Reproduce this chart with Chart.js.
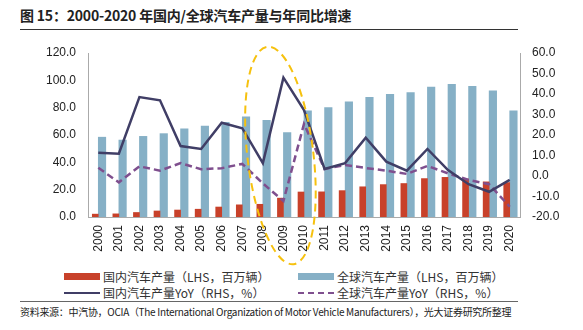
<!DOCTYPE html>
<html>
<head>
<meta charset="utf-8">
<script src="https://cdn.jsdelivr.net/npm/chart.js@4"></script>
<style>
  body { margin: 0; width: 583px; height: 330px; background: #fff; position: relative; overflow: hidden;
         font-family: "Noto Sans CJK SC", "Liberation Sans", sans-serif; color: #222; }
  #title { position: absolute; left: 20px; top: 5px; font-size: 14px; font-weight: bold; letter-spacing: -0.2px; }
  #titleLine { position: absolute; left: 20px; top: 29px; width: 498px; border-top: 1px solid #333; }
  #chartBox { position: absolute; left: 0; top: 32px; width: 583px; height: 236px; }
  .leg { position: absolute; font-size: 12px; color: #333; white-space: nowrap; line-height: 14px; }
  .sw { position: absolute; width: 36px; }
  #srcLine { position: absolute; left: 20px; top: 301px; width: 498px; border-top: 1px solid #666; }
  #src { position: absolute; left: 20px; top: 304px; font-size: 10px; letter-spacing: -0.3px; color: #222; white-space: nowrap; }
</style>
</head>
<body>
<div id="title">图 15：2000-2020 年国内/全球汽车产量与年同比增速</div>
<div id="titleLine"></div>
<div id="chartBox"><canvas id="chart"></canvas></div>

<div class="sw" style="left:64px;top:273px;height:7px;background:#c8412a"></div>
<div class="leg" style="left:103px;top:270px">国内汽车产量（LHS，百万辆）</div>
<div class="sw" style="left:298px;top:273px;height:7px;background:#86b0c6"></div>
<div class="leg" style="left:337px;top:270px">全球汽车产量（LHS，百万辆）</div>
<div class="sw" style="left:64px;top:292px;height:0;border-top:2px solid #403e66"></div>
<div class="leg" style="left:103px;top:286px">国内汽车产量YoY（RHS，%）</div>
<div class="sw" style="left:298px;top:292px;height:0;border-top:2px dashed #7f4f8e"></div>
<div class="leg" style="left:337px;top:286px">全球汽车产量YoY（RHS，%）</div>

<div id="srcLine"></div>
<div id="src">资料来源：中汽协，OCIA（The International Organization of Motor Vehicle Manufacturers），光大证券研究所整理</div>

<script>
const years = ['2000','2001','2002','2003','2004','2005','2006','2007','2008','2009','2010',
               '2011','2012','2013','2014','2015','2016','2017','2018','2019','2020'];
const chinaOutput = [2.1, 2.3, 3.3, 4.4, 5.1, 5.7, 7.3, 8.9, 9.3, 13.8, 18.3,
                     18.4, 19.3, 22.1, 23.7, 24.5, 28.1, 29.0, 27.8, 25.7, 25.2];
const globalOutput = [58.4, 56.3, 59.0, 61.0, 64.5, 66.6, 69.3, 73.3, 70.8, 61.8, 77.6,
                      80.1, 84.2, 87.5, 89.8, 91.0, 95.0, 97.0, 95.7, 92.3, 77.7];
const chinaYoY = [11.4, 10.9, 38.5, 36.9, 14.6, 13.2, 26.0, 23.3, 6.3, 48.0, 32.2,
                  3.4, 6.3, 18.7, 7.0, 2.6, 13.2, 2.9, -4.0, -7.7, -1.9];
const globalYoY = [4.0, -3.1, 4.7, 2.6, 6.3, 3.3, 3.8, 5.9, -3.6, -12.2, 25.4,
                   3.4, 5.4, 3.9, 2.6, 1.0, 4.9, 1.3, -1.9, -4.0, -15.0];
const leftTicks = [0, 20, 40, 60, 80, 100, 120];
const rightTicks = [-20, -10, 0, 10, 20, 30, 40, 50, 60];

// yellow dashed ring around 2008-2010
const ringPlugin = {
  id: 'ring',
  afterDatasetsDraw(chart) {
    const { ctx, chartArea, scales } = chart;
    const cx = scales.x.getPixelForValue(9) - 3;
    const top = chartArea.top - 7;
    const bottom = chartArea.bottom + 48;
    ctx.save();
    ctx.strokeStyle = '#f6c10e';
    ctx.lineWidth = 2;
    ctx.setLineDash([8, 5]);
    ctx.beginPath();
    ctx.ellipse(cx, (top + bottom) / 2, 33, (bottom - top) / 2, -0.12, 0, Math.PI * 2);
    ctx.stroke();
    ctx.restore();
  }
};

const tickFont = { family: 'Liberation Sans, Arial, sans-serif', size: 12 };

new Chart(document.getElementById('chart'), {
  data: {
    labels: years,
    datasets: [
      { type: 'line', label: '国内汽车产量YoY（RHS，%）', data: chinaYoY, yAxisID: 'y2',
        borderColor: '#403e66', borderWidth: 2.5, pointRadius: 0, tension: 0, order: 1 },
      { type: 'line', label: '全球汽车产量YoY（RHS，%）', data: globalYoY, yAxisID: 'y2',
        borderColor: '#7f4f8e', borderWidth: 2.5, borderDash: [7, 4], pointRadius: 0, tension: 0, order: 2 },
      { type: 'bar', label: '国内汽车产量（LHS，百万辆）', data: chinaOutput, yAxisID: 'y',
        backgroundColor: '#c8412a', barThickness: 6, order: 3 },
      { type: 'bar', label: '全球汽车产量（LHS，百万辆）', data: globalOutput, yAxisID: 'y',
        backgroundColor: '#86b0c6', barThickness: 7.5, order: 4 }
    ]
  },
  options: {
    responsive: true,
    maintainAspectRatio: false,
    animation: false,
    layout: { padding: { top: 21, left: 0, right: 0, bottom: 0 } },
    plugins: { legend: { display: false }, tooltip: { enabled: false } },
    scales: {
      x: {
        grid: { display: false, drawTicks: true, tickLength: 4 },
        border: { color: '#aaa' },
        ticks: { font: tickFont, color: '#222', maxRotation: 90, minRotation: 90, padding: 4, autoSkip: false },
        afterFit: s => { s.height = 51; }
      },
      y: {
        position: 'left',
        min: 0, max: 120,
        afterBuildTicks: s => { s.ticks = leftTicks.map(v => ({ value: v })); },
        grid: { display: false, drawTicks: true, tickLength: 4 },
        border: { color: '#aaa' },
        ticks: { font: tickFont, color: '#222', padding: 8, callback: v => v.toFixed(1) },
        afterFit: s => { s.width = 88; }
      },
      y2: {
        position: 'right',
        min: -20, max: 60,
        afterBuildTicks: s => { s.ticks = rightTicks.map(v => ({ value: v })); },
        grid: { display: false, drawTicks: true, tickLength: 4 },
        border: { color: '#aaa' },
        ticks: { font: tickFont, color: '#222', padding: 8, callback: v => v.toFixed(1) },
        afterFit: s => { s.width = 63; }
      }
    }
  },
  plugins: [ringPlugin]
});
</script>
</body>
</html>
